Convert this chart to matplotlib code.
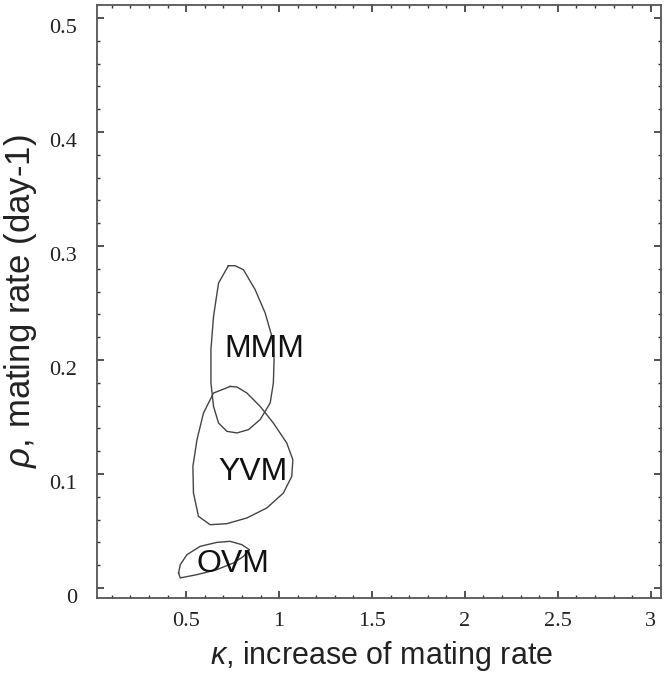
import numpy as np
import matplotlib
matplotlib.use("Agg")
import matplotlib.pyplot as plt
import matplotlib.transforms as mtransforms
from matplotlib.ticker import MultipleLocator, FixedLocator

plt.rcParams["mathtext.fontset"] = "custom"
plt.rcParams["mathtext.it"] = "Liberation Sans:italic"
plt.rcParams["mathtext.rm"] = "Liberation Sans"

# contour outlines (kappa, rho)
mmm_k = [0.727, 0.674, 0.647, 0.633, 0.633, 0.647, 0.674, 0.719, 0.773, 0.835,
         0.898, 0.952, 0.969, 0.973, 0.961, 0.925, 0.871, 0.808, 0.763]
mmm_r = [0.2827, 0.2675, 0.2382, 0.209, 0.180, 0.1593, 0.1447, 0.1374, 0.136, 0.1389,
         0.1477, 0.1623, 0.1798, 0.2003, 0.2207, 0.2412, 0.2617, 0.2792, 0.2827]

yvm_k = [0.737, 0.647, 0.593, 0.558, 0.536, 0.539, 0.566, 0.629, 0.719, 0.826,
         0.934, 1.023, 1.068, 1.074, 1.041, 0.969, 0.898, 0.826, 0.773]
yvm_r = [0.1768, 0.171, 0.1535, 0.1301, 0.1067, 0.0833, 0.0628, 0.0555, 0.0564, 0.0614,
         0.0702, 0.0833, 0.0979, 0.1125, 0.1272, 0.1447, 0.1593, 0.1711, 0.1763]

ovm_k = [0.459, 0.468, 0.504, 0.575, 0.665, 0.737, 0.799, 0.840, 0.808, 0.754,
         0.665, 0.558, 0.468]
ovm_r = [0.0132, 0.0204, 0.0292, 0.0365, 0.040, 0.0409, 0.038, 0.0336, 0.0277, 0.0219,
         0.0161, 0.0117, 0.0088]

labels = ["MMM", "YVM", "OVM"]
label_k = [0.919, 0.86, 0.753]
label_r = [0.21, 0.102, 0.0213]

x_ticks = [0.5, 1, 1.5, 2, 2.5, 3]
x_ticklabels = ["0.5", "1", "1.5", "2", "2.5", "3"]
y_ticks = [0, 0.1, 0.2, 0.3, 0.4, 0.5]
y_ticklabels = ["0", "0.1", "0.2", "0.3", "0.4", "0.5"]

fig = plt.figure(figsize=(6.71, 6.79), dpi=100)
ax = fig.add_axes([0.1446, 0.1193, 0.8404, 0.8733])

for ks, rs in [(mmm_k, mmm_r), (yvm_k, yvm_r), (ovm_k, ovm_r)]:
    ax.plot(ks + ks[:1], rs + rs[:1], color="#444444", lw=1.0)

for t, k, r in zip(labels, label_k, label_r):
    ax.text(k, r, t, ha="center", va="center", fontsize=23,
            family="Liberation Sans", color="#111111")

ax.set_xlim(0.02, 3.055)
ax.set_ylim(-0.0088, 0.5114)

ax.xaxis.set_major_locator(FixedLocator(x_ticks))
ax.set_xticklabels(x_ticklabels)
ax.yaxis.set_major_locator(FixedLocator(y_ticks))
ax.set_yticklabels(y_ticklabels)
ax.xaxis.set_minor_locator(MultipleLocator(0.1))
ax.yaxis.set_minor_locator(MultipleLocator(0.02))

ax.tick_params(which="both", direction="in", top=True, right=True,
               color="#333333", labelcolor="#222222")
ax.tick_params(which="major", length=5, width=1.2)
ax.tick_params(which="minor", length=2.5, width=1.0)
ax.tick_params(axis="x", which="major", pad=10)
ax.tick_params(axis="y", which="major", pad=14.5)
# y tick labels sit a bit below their ticks in the original
shift = mtransforms.ScaledTranslation(0, -8 / 100, fig.dpi_scale_trans)
for lab in ax.get_yticklabels():
    lab.set_transform(lab.get_transform() + shift)
for lab in ax.get_xticklabels() + ax.get_yticklabels():
    lab.set_family("Liberation Serif")
    lab.set_fontsize(16)

for s in ax.spines.values():
    s.set_color("#555555")
    s.set_linewidth(1.3)

fig.text(382 / 671, 1 - 664 / 679, r"$\kappa$, increase of mating rate", fontsize=22,
         family="Liberation Sans", color="#222222", ha="center", va="baseline")
fig.text(21 / 671, 1 - 301 / 679, r"$\rho$, mating rate (day-1)", fontsize=25,
         family="Liberation Sans", color="#222222", ha="center", va="center",
         rotation=90)

fig.savefig("out.png", dpi=100)
